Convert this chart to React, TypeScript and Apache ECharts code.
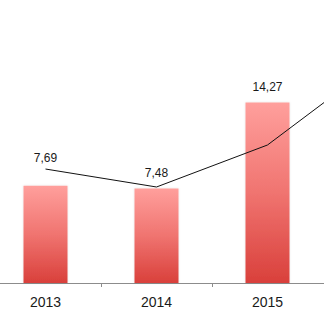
import React, { useEffect, useRef } from "react";
import * as echarts from "echarts";

const categories = ["2013", "2014", "2015", "2016"];
const barValues: (number | null)[] = [7.69, 7.48, 14.27, null];
const lineValues = [9.01, 7.59, 10.91, 17.5];
const labelTexts = ["7,69", "7,48", "14,27", ""];
const visibleCategoryCount = 3;

export default function App() {
  const ref = useRef<HTMLDivElement>(null);
  useEffect(() => {
    if (!ref.current) return;
    const chart = echarts.init(ref.current, null, { renderer: "svg" });
    const pxPerUnit = 12.65;
    const yMax = 22;
    const baseY = 283;
    const gridH = yMax * pxPerUnit;
    chart.setOption({
      animation: false,
      backgroundColor: "#ffffff",
      grid: { left: 0, width: 444, top: baseY - gridH, height: gridH, containLabel: false },
      xAxis: {
        type: "category",
        data: categories,
        boundaryGap: true,
        axisLine: { show: true, lineStyle: { color: "#8c8c8c", width: 1 } },
        axisTick: { show: true, length: 4, lineStyle: { color: "#8c8c8c" } },
        axisLabel: {
          margin: 12,
          fontSize: 14,
          color: "#1a1a1a",
          fontFamily: "Liberation Sans, Arial, sans-serif",
          interval: (idx: number) => idx < visibleCategoryCount,
        },
      },
      yAxis: {
        type: "value",
        min: 0,
        max: yMax,
        show: false,
        splitLine: { show: false },
      },
      series: [
        {
          type: "bar",
          barWidth: 44,
          z: 1,
          data: barValues.map((v, i) => ({
            value: v,
            label: {
              show: v !== null,
              position: "top",
              formatter: () => labelTexts[i],
              offset: [0, i === 0 ? -17 : -4],
            },
          })),
          label: {
            fontSize: 12,
            color: "#1a1a1a",
            fontFamily: "Liberation Sans, Arial, sans-serif",
          },
          itemStyle: {
            color: new echarts.graphic.LinearGradient(0, 0, 0, 1, [
              { offset: 0, color: "#ff9f9c" },
              { offset: 0.5, color: "#f07470" },
              { offset: 1, color: "#d9403b" },
            ]),
            shadowBlur: 2,
            shadowColor: "rgba(0,0,0,0.12)",
          },
        },
        {
          type: "line",
          data: lineValues,
          z: 3,
          symbol: "none",
          lineStyle: { color: "#111111", width: 1 },
        },
      ],
    });
    return () => chart.dispose();
  }, []);
  return (
    <div style={{ position: "fixed", left: 0, top: 0, width: 324, height: 330, overflow: "hidden", background: "#fff" }}>
      <div ref={ref} style={{ position: "absolute", left: -10.5, top: 0, width: 460, height: 330 }} />
    </div>
  );
}
